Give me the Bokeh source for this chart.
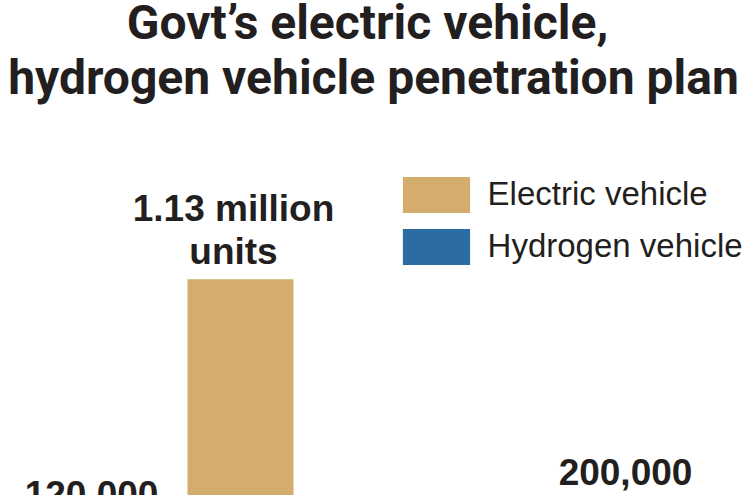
from bokeh.plotting import figure
from bokeh.models import FactorRange, Range1d, Legend, LegendItem, Label, ColumnDataSource
from bokeh.transform import dodge
from bokeh.core.properties import value
from bokeh.embed import file_html
from bokeh.resources import INLINE

# ---- data -------------------------------------------------------------
title_lines = ["Govt\u2019s electric vehicle,", "hydrogen vehicle penetration plan"]
vehicle_types = ["Electric vehicle", "Hydrogen vehicle"]
electric_stages = ["Current", "Target"]
electric_units = [120000, 1130000]
electric_labels = ["120,000", "1.13 million"]
hydrogen_stages = ["Target"]
hydrogen_units = [200000]
hydrogen_labels = ["200,000"]
unit_word = "units"

# ---- style ------------------------------------------------------------
TAN = "#D3AC6E"
BLUE = "#2B6CA3"
DARK = "#231F20"

factors = [(vehicle_types[0], s) for s in electric_stages] + \
          [(vehicle_types[1], s) for s in hydrogen_stages]

x_range = FactorRange(*factors, factor_padding=0.2, group_padding=2.313,
                      range_padding=0.4127, range_padding_units="absolute")

p = figure(width=750, height=495, x_range=x_range,
           y_range=Range1d(366970, 2113620),
           output_backend="svg", toolbar_location=None,
           x_axis_location=None, y_axis_location=None,
           min_border=0)
p.grid.visible = False
p.outline_line_color = None
p.background_fill_color = "white"
p.border_fill_color = "white"

src_e = ColumnDataSource(dict(
    x=[(vehicle_types[0], s) for s in electric_stages],
    top=electric_units, label=electric_labels))
src_h = ColumnDataSource(dict(
    x=[(vehicle_types[1], s) for s in hydrogen_stages],
    top=hydrogen_units, label=hydrogen_labels))

SHIFT = -0.0845  # small horizontal shift of the whole bar layout
xs = dodge("x", SHIFT, range=x_range)

r_e = p.vbar(x=xs, top="top", bottom=0, width=0.896, source=src_e,
             fill_color=TAN, line_color=None)
r_h = p.vbar(x=xs, top="top", bottom=0, width=0.896, source=src_h,
             fill_color=BLUE, line_color=None)

for src in (src_e, src_h):
    p.text(x=xs, y="top", text="label", source=src,
           text_font=value("Liberation Sans"), text_font_style="bold",
           text_font_size="37px", text_color=DARK,
           text_align="center", text_baseline="alphabetic",
           x_offset=-7, y_offset=-71)
    p.text(x=xs, y="top", text=value(unit_word), source=src,
           text_font=value("Liberation Sans"), text_font_style="bold",
           text_font_size="37px", text_color=DARK,
           text_align="center", text_baseline="alphabetic",
           x_offset=-7, y_offset=-28)

legend = Legend(items=[LegendItem(label=vehicle_types[0], renderers=[r_e]),
                       LegendItem(label=vehicle_types[1], renderers=[r_h])],
                location=(393.6, 226.5), orientation="vertical",
                glyph_width=84, glyph_height=45, label_height=20,
                spacing=7, label_standoff=10, padding=0, margin=0,
                border_line_color=None, background_fill_alpha=0,
                label_text_font="Liberation Sans", label_text_font_size="33px",
                label_text_color=DARK)
p.add_layout(legend)

for text, x, y in ((title_lines[0], 367, 473.5), (title_lines[1], 373, 418.5)):
    p.add_layout(Label(x=x, y=y, x_units="screen", y_units="screen", text=text,
                       text_align="center", text_baseline="alphabetic",
                       text_font="Roboto", text_font_style="bold",
                       text_font_size="48px", text_color=DARK))

open("out.html", "w").write(file_html(p, INLINE))
